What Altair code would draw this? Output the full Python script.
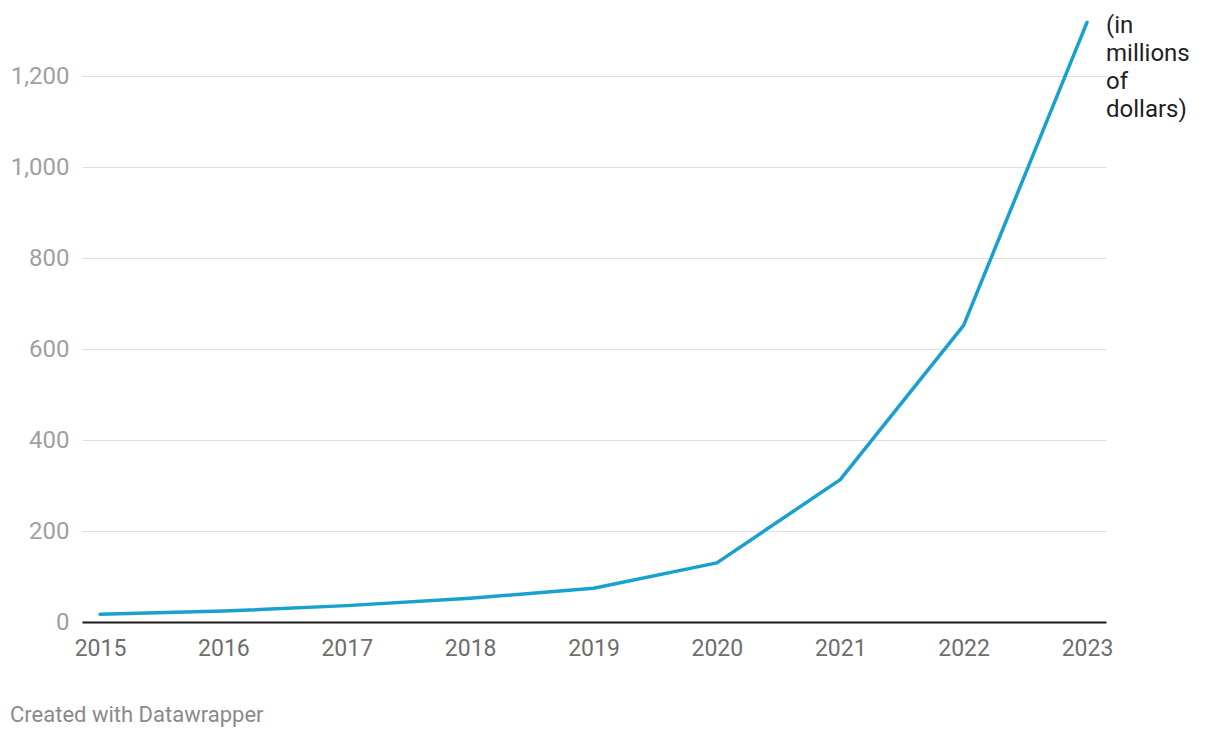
import altair as alt
import pandas as pd

years = [2015, 2016, 2017, 2018, 2019, 2020, 2021, 2022, 2023]
values = [17, 24, 36, 52, 74, 130, 313, 652, 1318]
y_ticks = [0, 200, 400, 600, 800, 1000, 1200]
unit_note = "(in\nmillions\nof\ndollars)"
footer = "Created with Datawrapper"

df = pd.DataFrame({"year": years, "value": values})

W, H = 1024, 605

line = alt.Chart(df).mark_line(color="#18a0cf", strokeWidth=3.5, strokeJoin="round", strokeCap="round").encode(
    x=alt.X("year:Q",
            scale=alt.Scale(domain=[2014.854, 2023.154], nice=False, zero=False),
            axis=alt.Axis(values=years, format="d", title=None, grid=False, ticks=False,
                          domain=True, domainColor="#1a1a1a", domainWidth=2,
                          labelColor="#6e6e6e", labelFont="Roboto", labelFontSize=23,
                          labelPadding=15)),
    y=alt.Y("value:Q",
            scale=alt.Scale(domain=[0, 1330], nice=False),
            axis=alt.Axis(values=y_ticks, format=",d", title=None, grid=True, gridColor="#dedede",
                          gridWidth=1, ticks=False, domain=False,
                          labelColor="#a0a0a0", labelFont="Roboto", labelFontSize=24,
                          labelPadding=13)),
)

note = alt.Chart(pd.DataFrame({"t": [unit_note]})).mark_text(
    align="left", baseline="alphabetic", font="Roboto", fontSize=24, color="#222222",
    lineBreak="\n", lineHeight=28
).encode(x=alt.value(W), y=alt.value(16), text="t:N")

foot = alt.Chart(pd.DataFrame({"t": [footer]})).mark_text(
    align="left", baseline="alphabetic", font="Roboto", fontSize=22, color="#8a8a8a"
).encode(x=alt.value(-72), y=alt.value(100 + H), text="t:N")

chart = alt.layer(line, note, foot).properties(
    width=W, height=H,
    background="white",
    autosize=alt.AutoSizeParams(type="none"),
    padding={"left": 74, "top": 9, "right": 100, "bottom": 110},
).configure_view(strokeWidth=0, stroke=None)

chart.save("out.html", embed_options={"renderer": "svg", "actions": False})
